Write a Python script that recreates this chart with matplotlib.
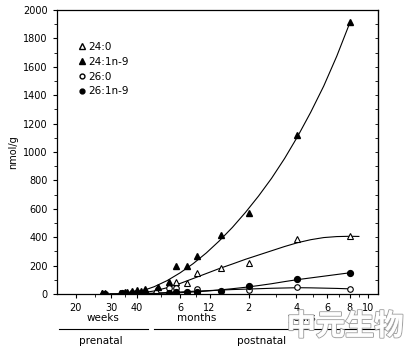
import matplotlib.pyplot as plt
import matplotlib.patheffects as pe
from matplotlib.lines import Line2D
from matplotlib.ticker import FixedLocator, MultipleLocator, NullFormatter

# возраст в неделях от зачатия (40 нед. = рождение)
tick_pos = [20, 30, 40, 66, 92, 144, 248, 352, 456, 560]
tick_lab = ['20', '30', '40', '6', '12', '2', '4', '6', '8', '10']
minor_pos = [25, 35, 53, 79, 196, 300, 404, 508]

# точки
x_240 = [27, 36, 40, 44, 50, 63, 71, 80, 105, 144, 251, 456]
y_240 = [5, 8, 10, 15, 30, 85, 77, 148, 185, 218, 387, 408]

x_241 = [27, 28, 33, 35, 36, 38, 40, 42, 44, 51, 58, 63, 71, 80, 105, 144, 251, 456]
y_241 = [10, 8, 10, 12, 15, 20, 30, 25, 35, 50, 85, 197, 197, 268, 415, 570, 1120, 1915]

x_260 = [40, 58, 63, 80, 144, 251, 456]
y_260 = [5, 40, 40, 35, 30, 50, 35]

x_261 = [28, 34, 38, 40, 44, 58, 63, 71, 80, 105, 144, 251, 456]
y_261 = [4, 5, 6, 8, 10, 10, 12, 12, 15, 21, 55, 106, 148]

# кривые, общая сетка по возрасту
cx = [29.5, 36.3, 42.1, 48.9, 56.7, 65.8, 76.4, 88.7, 102.9, 119.5, 138.6,
      160.9, 186.7, 216.7, 251.5, 291.9, 338.8, 393.1, 456.3]
cy_241 = [0, 2, 20, 52, 95, 150, 215, 290, 375, 470, 575,
          690, 815, 955, 1110, 1280, 1465, 1675, 1910]
cy_240 = [0, 2, 8, 22, 45, 75, 110, 145, 180, 212, 245,
          275, 305, 335, 362, 383, 398, 405, 407]
cy_261 = [0, 0, 2, 4, 7, 10, 15, 21, 29, 38, 48,
          60, 73, 88, 102, 114, 126, 138, 150]
cy_260 = [0, 1, 3, 7, 11, 15, 20, 24, 28, 32, 35,
          38, 41, 43, 45, 44, 42, 40, 37]

plt.rcParams['font.size'] = 7
fig = plt.figure(figsize=(4.12, 3.46), dpi=100)
ax = fig.add_axes([0.138, 0.150, 0.779, 0.821])

lw = 0.8
ax.plot(cx, cy_241, color='black', lw=lw)
ax.plot(cx + [506], cy_240 + [406], color='black', lw=lw)
ax.plot(cx, cy_261, color='black', lw=lw)
ax.plot(cx, cy_260, color='black', lw=lw)

ax.plot(x_240, y_240, '^', mfc='white', mec='black', ms=4.8, mew=0.8, ls='none')
ax.plot(x_241, y_241, '^', color='black', ms=4.8, ls='none')
ax.plot(x_260, y_260, 'o', mfc='white', mec='black', ms=4, mew=0.8, ls='none')
ax.plot(x_261, y_261, 'o', color='black', ms=4.2, ls='none')

ax.set_xscale('log')
ax.set_xlim(16.1, 628)
ax.set_ylim(0, 2000)
ax.xaxis.set_major_locator(FixedLocator(tick_pos))
ax.xaxis.set_minor_locator(FixedLocator(minor_pos))
ax.set_xticklabels(tick_lab)
ax.xaxis.set_minor_formatter(NullFormatter())
ax.yaxis.set_major_locator(MultipleLocator(200))
ax.yaxis.set_minor_locator(MultipleLocator(100))
ax.tick_params(axis='both', which='both', direction='out', top=False, right=False)
ax.tick_params(which='major', length=3, width=0.8)
ax.tick_params(which='minor', length=2, width=0.6)
for s in ax.spines.values():
    s.set_linewidth(0.9)
ax.set_ylabel('nmol/g', labelpad=4)

# мелкие засечки справа внутрь
sec = ax.secondary_yaxis('right')
sec.yaxis.set_major_locator(MultipleLocator(100))
sec.tick_params(direction='in', length=2, width=0.6, labelright=False)

handles = [
    Line2D([], [], marker='^', mfc='white', mec='black', ms=4, ls='none'),
    Line2D([], [], marker='^', color='black', ms=4, ls='none'),
    Line2D([], [], marker='o', mfc='white', mec='black', ms=3.5, ls='none'),
    Line2D([], [], marker='o', color='black', ms=3.5, ls='none'),
]
ax.legend(handles, ['24:0', '24:1n-9', '26:0', '26:1n-9'], loc='upper left',
          bbox_to_anchor=(0.04, 0.92), frameon=False, handlelength=0.6,
          handletextpad=0.3, labelspacing=0.45, fontsize=7.5)

# подписи под осью
fig.text(103 / 412, 1 - 318 / 346, 'weeks', ha='center', va='center', fontsize=7.5)
fig.text(197 / 412, 1 - 318 / 346, 'months', ha='center', va='center', fontsize=7.5)
fig.text(302 / 412, 1 - 318 / 346, 'years', ha='center', va='center', fontsize=7.5)
fig.add_artist(Line2D([59 / 412, 148 / 412], [1 - 329 / 346] * 2, color='black', lw=0.8))
fig.add_artist(Line2D([154 / 412, 385 / 412], [1 - 329 / 346] * 2, color='black', lw=0.8))
fig.text(101 / 412, 1 - 341 / 346, 'prenatal', ha='center', va='center', fontsize=7.5)
fig.text(262 / 412, 1 - 341 / 346, 'postnatal', ha='center', va='center', fontsize=7.5)

# водяной знак
wm = fig.text(345 / 412, 1 - 326 / 346, '中元生物', ha='center', va='center',
              fontsize=21, fontweight='bold', color='white', alpha=0.9,
              family=['Noto Sans CJK SC', 'DejaVu Sans'])
wm.set_path_effects([pe.withStroke(linewidth=1.5, foreground='#9a9a9a'), pe.Normal()])

fig.savefig('out.png', dpi=100)
